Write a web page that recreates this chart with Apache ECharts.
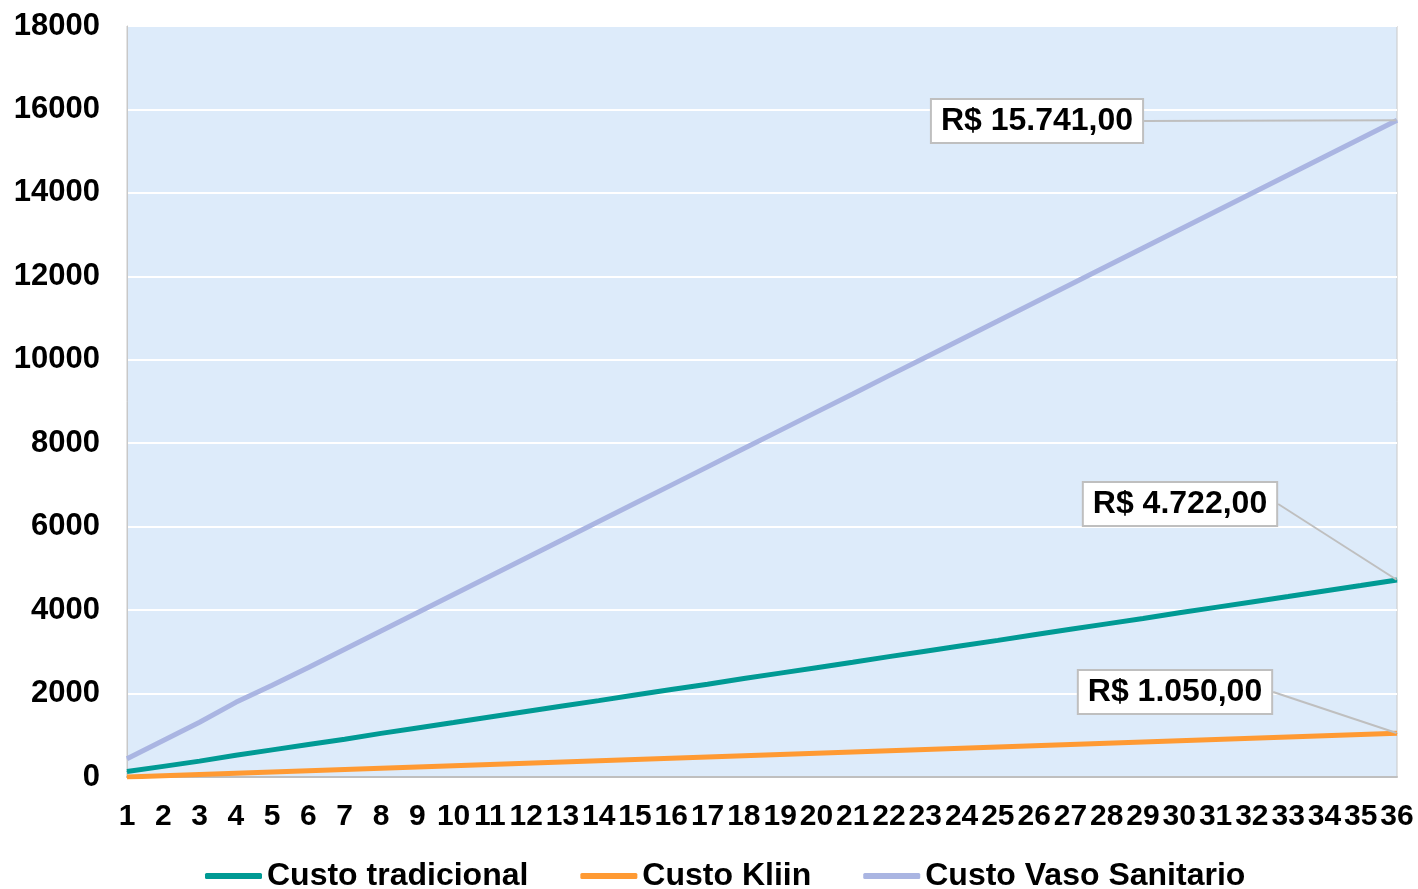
<!DOCTYPE html>
<html>
<head>
<meta charset="utf-8">
<script src="https://cdn.jsdelivr.net/npm/echarts@6/dist/echarts.min.js"></script>
<style>
  html, body { margin: 0; padding: 0; background: #fff; }
  #main { width: 1418px; height: 889px; }
</style>
</head>
<body>
<div id="main"></div>
<script>
var meses = [];
for (var i = 1; i <= 36; i++) meses.push(String(i));

var custoTradicional = [130, 255, 380, 520, 650, 780, 905, 1045, 1175, 1305, 1440, 1570, 1700, 1830, 1965, 2095, 2225, 2360, 2490, 2620, 2750, 2885, 3015, 3145, 3275, 3410, 3540, 3670, 3800, 3935, 4065, 4195, 4325, 4460, 4590, 4722];
var custoKliin = [0, 30, 60, 90, 120, 150, 180, 210, 240, 270, 300, 330, 360, 390, 420, 450, 480, 510, 540, 570, 600, 630, 660, 690, 720, 750, 780, 810, 840, 870, 900, 930, 960, 990, 1020, 1050];
var custoVaso = [437, 875, 1312, 1790, 2200, 2624, 3061, 3498, 3935, 4373, 4810, 5247, 5684, 6122, 6559, 6996, 7433, 7871, 8308, 8745, 9182, 9620, 10057, 10494, 10931, 11369, 11806, 12243, 12680, 13118, 13555, 13992, 14429, 14867, 15304, 15741];

var nomes = ['Custo tradicional', 'Custo Kliin', 'Custo Vaso Sanitario'];
var cores = ['#009A94', '#FF9A33', '#AAB5E2'];
// onde fica a caixa do rotulo final de cada serie
var posRotulo = [[1180, 504], [1175, 692], [1037, 121]];

function reais(v){
	var s = String(Math.round(v)).replace(/\B(?=(\d{3})+(?!\d))/g, '.');
	return 'R$ ' + s + ',00';
}

function montaSerie(idx, valores){
	var dados = valores.map(function(v, k){
		if (k == valores.length - 1) {
			return {value: v, label: {show: true}};
		}
		return v;
	});
	return {
		name: nomes[idx],
		type: 'line',
		data: dados,
		symbol: 'circle',
		symbolSize: 1,
		showSymbol: true,
		lineStyle: { width: 5, color: cores[idx] },
		itemStyle: { color: cores[idx] },
		label: {
			show: false,
			formatter: function(p){ return reais(p.value); },
			backgroundColor: '#fff',
			borderColor: '#BFBFBF',
			borderWidth: 2,
			padding: [6, 9, 4, 9],
			color: '#000',
			fontFamily: 'Liberation Sans, Arial',
			fontWeight: 'bold',
			fontSize: 32
		},
		labelLine: { show: true, lineStyle: { color: '#BFBFBF', width: 2 } },
		labelLayout: function(){
			return { x: posRotulo[idx][0], y: posRotulo[idx][1], align: 'center', verticalAlign: 'middle' };
		}
	};
}

var option = {
	animation: false,
	backgroundColor: '#fff',
	grid: {
		left: 127, right: 21, top: 26, bottom: 112,
		show: true, backgroundColor: '#DDEBFA', borderColor: '#C8C8C8', borderWidth: 1
	},
	legend: {
		left: 205, top: 860, padding: 0,
		itemWidth: 57, itemHeight: 6, itemGap: 52,
		icon: 'roundRect',
		textStyle: { fontFamily: 'Liberation Sans, Arial', fontWeight: 'bold', fontSize: 32, color: '#000' },
		data: nomes
	},
	xAxis: {
		type: 'category',
		data: meses,
		boundaryGap: false,
		axisLine: { lineStyle: { color: '#BFBFBF', width: 2 } },
		axisTick: { show: false },
		axisLabel: { interval: 0, margin: 25, color: '#000', fontFamily: 'Liberation Sans, Arial', fontWeight: 'bold', fontSize: 30 }
	},
	yAxis: {
		type: 'value',
		min: 0, max: 18000, interval: 2000,
		axisLine: { show: true, lineStyle: { color: '#C8C8C8' } },
		axisTick: { show: false },
		splitLine: { lineStyle: { color: '#fff', width: 2 } },
		axisLabel: { margin: 27, color: '#000', fontFamily: 'Liberation Sans, Arial', fontWeight: 'bold', fontSize: 31,
			formatter: function(v){ return String(v); } }
	},
	series: [
		montaSerie(0, custoTradicional),
		montaSerie(1, custoKliin),
		montaSerie(2, custoVaso)
	]
};

var grafico = echarts.init(document.getElementById('main'));
grafico.setOption(option);
</script>
</body>
</html>
